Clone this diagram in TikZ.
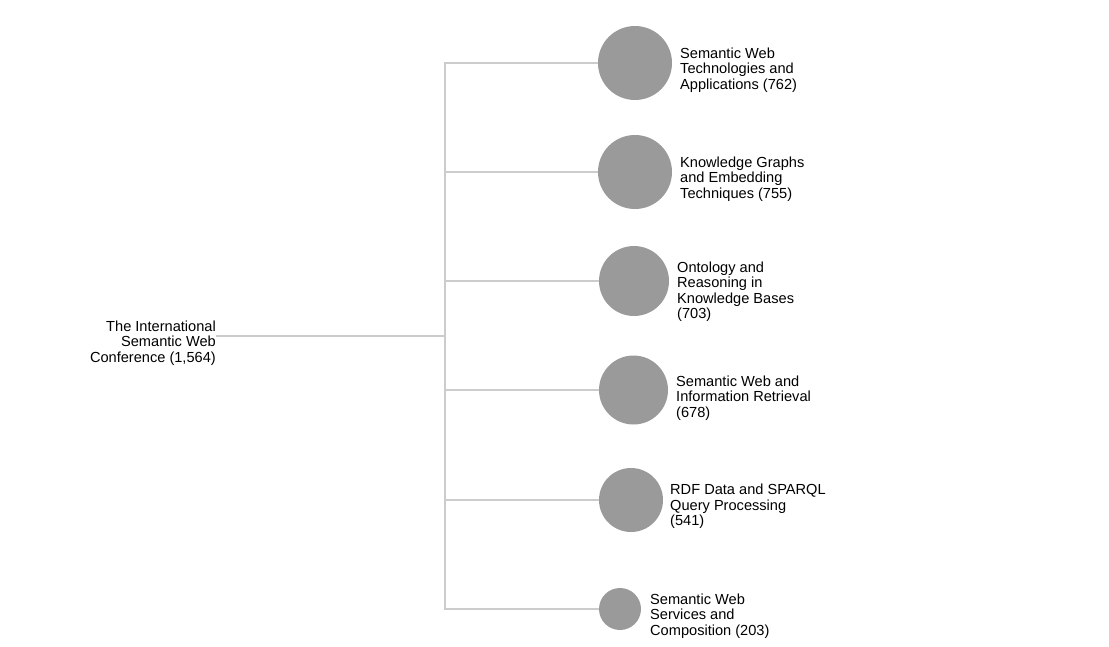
\documentclass[tikz,border=0pt]{standalone}
\usepackage{fontspec}
\setmainfont{Liberation Sans}
\definecolor{linegray}{HTML}{CCCCCC}
\definecolor{dotgray}{HTML}{9A9A9A}
\definecolor{txt}{HTML}{000000}
\begin{document}
\begin{tikzpicture}[x=1pt,y=-1pt,
  topic/.style={circle,fill=dotgray,draw=none,inner sep=0pt,minimum size=#1},
  lbl/.style={anchor=west,inner sep=0pt,align=left,text=txt,font=\fontsize{14.6}{15.5}\selectfont},
  rootlbl/.style={anchor=east,inner sep=0pt,align=right,text=txt,font=\fontsize{14.6}{15.5}\selectfont},
  link/.style={draw=linegray,line width=1.4pt}]
\useasboundingbox (0,0) rectangle (1109,646);
% circles
\node[topic=74pt] (c1) at (635,63) {};
\node[topic=74pt] (c2) at (635,172) {};
\node[topic=70pt] (c3) at (634,281) {};
\node[topic=69pt] (c4) at (633.5,390) {};
\node[topic=64pt] (c5) at (631,500) {};
\node[topic=42pt] (c6) at (620,609) {};
% root
\node[rootlbl] (r) at (216,343) {The International\\Semantic Web\\Conference (1,564)};
\coordinate (rs) at (216,336);
\coordinate (j) at (445,336);
% connectors
\draw[link] (rs) -- (j);
\draw[link] (j) |- (c1.west);
\draw[link] (j) |- (c2.west);
\draw[link] (j) |- (c3.west);
\draw[link] (j) |- (c4.west);
\draw[link] (j) |- (c5.west);
\draw[link] (j) |- (c6.west);
% labels
\node[lbl] (l1) at (680,70) {Semantic Web\\Technologies and\\Applications (762)};
\node[lbl] (l2) at (680,179) {Knowledge Graphs\\and Embedding\\Techniques (755)};
\node[lbl] (l3) at (677,291.5) {Ontology and\\Reasoning in\\Knowledge Bases\\(703)};
\node[lbl] (l4) at (676,398) {Semantic Web and\\Information Retrieval\\(678)};
\node[lbl] (l5) at (670,506.5) {RDF Data and SPARQL\\Query Processing\\(541)};
\node[lbl] (l6) at (650,616) {Semantic Web\\Services and\\Composition (203)};
\end{tikzpicture}
\end{document}
